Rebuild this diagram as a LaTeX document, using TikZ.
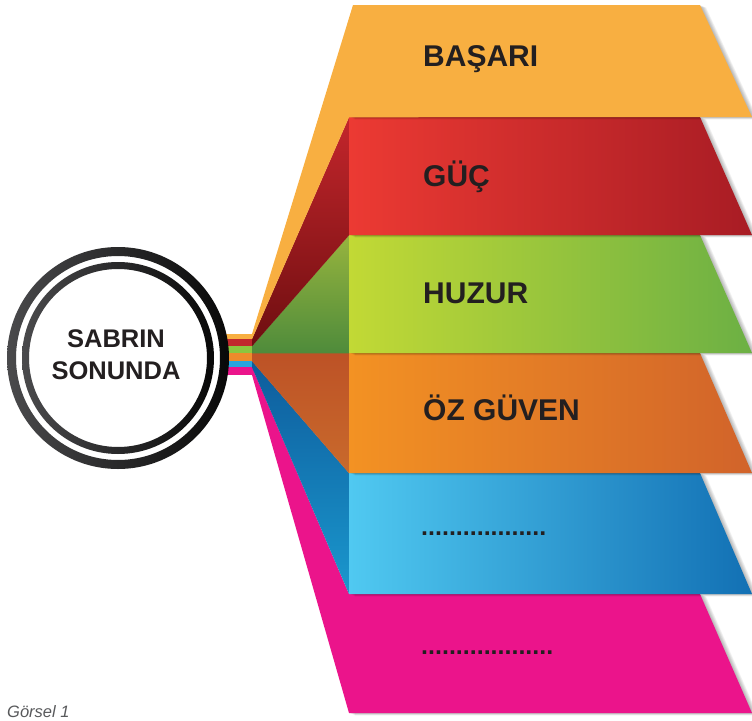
\documentclass[tikz,border=0pt]{standalone}
\usepackage{fontspec}
\setmainfont{Liberation Sans}
\definecolor{cOr}{HTML}{F8AF41}
\definecolor{cRedL}{HTML}{EC3A33}
\definecolor{cRedR}{HTML}{A81C24}
\definecolor{cRedST}{HTML}{C4262C}
\definecolor{cRedSB}{HTML}{6E0E10}
\definecolor{cGrL}{HTML}{C2D935}
\definecolor{cGrR}{HTML}{6CB044}
\definecolor{cGrST}{HTML}{97B43E}
\definecolor{cGrSB}{HTML}{4E8B3B}
\definecolor{cOzL}{HTML}{F39223}
\definecolor{cOzR}{HTML}{D1632A}
\definecolor{cOzST}{HTML}{BD5226}
\definecolor{cOzSB}{HTML}{C96A2C}
\definecolor{cBlL}{HTML}{50C9F1}
\definecolor{cBlR}{HTML}{1270B4}
\definecolor{cBlST}{HTML}{0E5C9C}
\definecolor{cBlSB}{HTML}{1A98CE}
\definecolor{cPk}{HTML}{EB148B}
\definecolor{sRed}{HTML}{C1272D}
\definecolor{sGr}{HTML}{8CC63F}
\definecolor{sOz}{HTML}{EE8B2B}
\definecolor{sBl}{HTML}{29A4DD}
\definecolor{ringL}{HTML}{4A4A4C}
\definecolor{ringR}{HTML}{080808}
\definecolor{txt}{HTML}{231F20}
\definecolor{capgray}{HTML}{58595B}
\newcommand\bandfront[2]{(349,#1) -- (700,#1) -- (752,#2) -- (349,#2) -- cycle}
\newcommand\bandshadow[2]{%
  \foreach \s in {1,...,6} {%
    \fill[black,opacity=0.05,xshift=\s pt,yshift={-0.4*\s pt}] \bandfront{#1}{#2};}}
\tikzset{
  label/.style={anchor=base west,inner sep=0pt,text=txt,font=\bfseries\fontsize{30}{36}\selectfont},
  dots/.style={anchor=base west,inner sep=0pt,text=txt,font=\bfseries\fontsize{25}{30}\selectfont},
  center/.style={anchor=base,inner sep=0pt,text=txt,font=\bfseries\fontsize{25.5}{30}\selectfont},
}
\begin{document}
\begin{tikzpicture}[x=1pt,y=-1pt]
\useasboundingbox (0,0) rectangle (752,720);
% junction stripes
\fill[cOr] (222,334) rectangle (254,339.3);
\fill[sRed] (222,339) rectangle (254,346.3);
\fill[sGr] (222,346) rectangle (254,353.3);
\fill[sOz] (222,353) rectangle (254,361.3);
\fill[sBl] (222,361) rectangle (254,367.3);
\fill[cPk] (222,367) rectangle (254,375);
% pink band
\bandshadow{594}{713}
\fill[cPk] (349,594) -- (700,594) -- (752,713) -- (349,713) -- (252,375) -- (252,367) -- cycle;
% blue band
\shade[top color=cBlST,bottom color=cBlSB] (349,473) -- (252,361) -- (252,367.3) -- (349,594) -- cycle;
\bandshadow{473}{594}
\shade[left color=cBlL,right color=cBlR] \bandfront{473}{594};
% orange band (OZ GUVEN)
\shade[top color=cOzST,bottom color=cOzSB] (349,353) -- (252,353) -- (252,361.3) -- (349,473.3) -- cycle;
\bandshadow{353}{473}
\shade[left color=cOzL,right color=cOzR] \bandfront{353}{473};
% green band
\shade[top color=cGrST,bottom color=cGrSB] (349,235) -- (252,346) -- (252,353.3) -- (349,353.3) -- cycle;
\bandshadow{235}{353}
\shade[left color=cGrL,right color=cGrR] \bandfront{235}{353};
% red band
\shade[top color=cRedST,bottom color=cRedSB] (349,117) -- (252,339) -- (252,346.3) -- (349,235.3) -- cycle;
\bandshadow{117}{235}
\shade[left color=cRedL,right color=cRedR] \bandfront{117}{235};
% top band
\foreach \s in {1,...,6} {\fill[black,opacity=0.05,xshift=\s pt,yshift={-0.4*\s pt}] (353,5) -- (700,5) -- (752,117) -- (349,117) -- cycle;}
\fill[cOr] (353,5) -- (700,5) -- (752,117) -- (349,117.3) -- (252,339.3) -- (252,334) -- cycle;
% rings
\fill[white] (118,358) circle[radius=102pt];
\shade[left color=ringL,right color=ringR,even odd rule] (118,358) circle[radius=111pt] (118,358) circle[radius=102pt];
\shade[left color=ringL,right color=ringR,even odd rule] (118,358) circle[radius=96pt] (118,358) circle[radius=89pt];
% texts
\node[center] (c1) at (116,347) {SABRIN};
\node[center] (c2) at (116,379) {SONUNDA};
\node[label] (t1) at (423,66.5) {BAŞARI};
\node[label] (t2) at (423,186) {GÜÇ};
\node[label] (t3) at (423,303) {HUZUR};
\node[label] (t4) at (423,420) {ÖZ GÜVEN};
\node[dots] (t5) at (421,535) {..................};
\node[dots] (t6) at (421,654) {...................};
\node[anchor=base west,inner sep=0pt,text=capgray,font=\itshape\fontsize{16.5}{19}\selectfont] (cap) at (7,717) {Görsel 1};
\end{tikzpicture}
\end{document}
